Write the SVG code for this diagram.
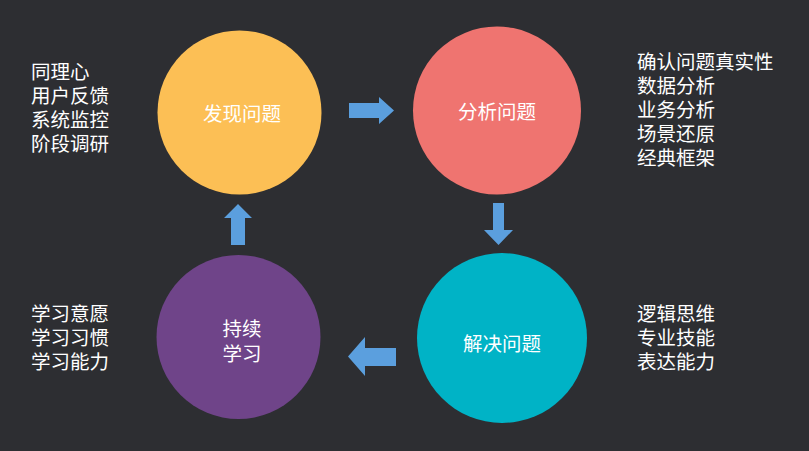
<svg xmlns="http://www.w3.org/2000/svg" width="809" height="451" viewBox="0 0 809 451">
<style>
.bg{fill:#2d2e32}
.lbl{font-family:"Noto Sans CJK SC","Noto Sans",sans-serif;font-size:19.5px;fill:#ffffff;dominant-baseline:central}
.c{text-anchor:middle}
.arrow{fill:#5b9fde}
</style>
<rect class="bg" x="0" y="0" width="809" height="451"/>
<g id="node-discover">
<circle cx="239.5" cy="112.5" r="82" fill="#fcbf55"/>
<text class="lbl c" x="242" y="112">发现问题</text>
</g>
<g id="node-analyze">
<circle cx="497" cy="110.5" r="84" fill="#ef7470"/>
<text class="lbl c" x="497" y="110">分析问题</text>
</g>
<g id="node-solve">
<circle cx="502" cy="338" r="85" fill="#00b3c6"/>
<text class="lbl c" x="502" y="342">解决问题</text>
</g>
<g id="node-learn">
<circle cx="238.5" cy="337" r="82" fill="#6f4489"/>
<text class="lbl c" x="242" y="327">持续</text>
<text class="lbl c" x="242" y="352">学习</text>
</g>
<g id="notes-discover">
<text class="lbl" x="31" y="70">同理心</text>
<text class="lbl" x="31" y="94">用户反馈</text>
<text class="lbl" x="31" y="118">系统监控</text>
<text class="lbl" x="31" y="142">阶段调研</text>
</g>
<g id="notes-analyze">
<text class="lbl" x="637" y="60">确认问题真实性</text>
<text class="lbl" x="637" y="84">数据分析</text>
<text class="lbl" x="637" y="108">业务分析</text>
<text class="lbl" x="637" y="132">场景还原</text>
<text class="lbl" x="637" y="156">经典框架</text>
</g>
<g id="notes-solve">
<text class="lbl" x="637" y="312">逻辑思维</text>
<text class="lbl" x="637" y="336">专业技能</text>
<text class="lbl" x="637" y="360">表达能力</text>
</g>
<g id="notes-learn">
<text class="lbl" x="31" y="312">学习意愿</text>
<text class="lbl" x="31" y="336">学习习惯</text>
<text class="lbl" x="31" y="360">学习能力</text>
</g>
<g id="connectors">
<polygon class="arrow" points="349,103 379,103 379,97 394,110.5 379,124 379,118 349,118"/>
<polygon class="arrow" points="493,203 504,203 504,230 513,230 498.5,245 484,230 493,230"/>
<polygon class="arrow" points="396,348 365,348 365,337 348,356.5 365,376 365,366 396,366"/>
<polygon class="arrow" points="231,245 245,245 245,218 252,218 238,204 224,218 231,218"/>
</g>
</svg>
